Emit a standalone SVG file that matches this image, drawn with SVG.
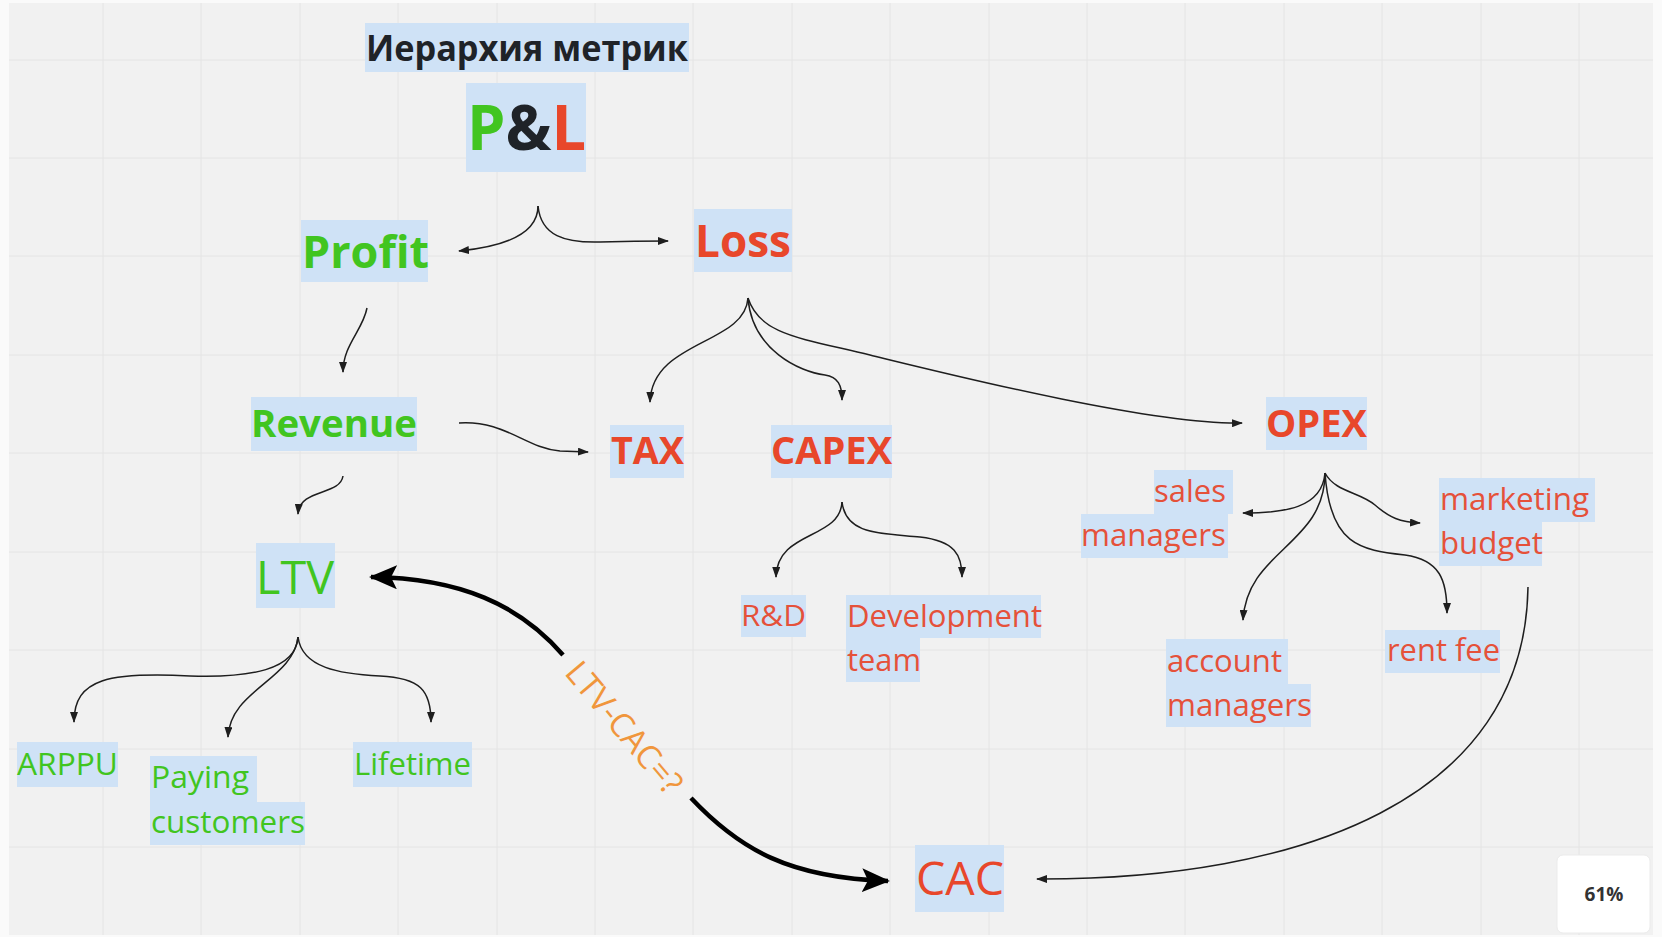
<svg xmlns="http://www.w3.org/2000/svg" width="1662" height="937" viewBox="0 0 1662 937">
<defs>
<style>
.box{fill:#cfe2f6}
.t{font-family:"Open Sans","Noto Sans","Liberation Sans",sans-serif}
.b{font-weight:700}
.g{fill:#41c520}
.r{fill:#e8472b}
.rl{fill:#e5513a}
.grid{stroke:#e4e4e4;stroke-width:1}
.c{fill:none;stroke:#1e1e1e;stroke-width:1.5;marker-end:url(#a)}
.k{fill:none;stroke:#000;stroke-width:4.5}
</style>
<marker id="a" markerUnits="userSpaceOnUse" markerWidth="11" markerHeight="8" refX="10" refY="4" orient="auto">
<path d="M0,0 L11,4 L0,8 z" fill="#1e1e1e"/>
</marker>
<marker id="A" markerUnits="userSpaceOnUse" markerWidth="28" markerHeight="24" refX="26" refY="12" orient="auto">
<path d="M0,0 L28,12 L0,24 L6,12 z" fill="#000"/>
</marker>
</defs>
<rect width="1662" height="937" fill="#fafafa"/>
<rect x="9" y="3" width="1644" height="932" fill="#f1f1f1"/>
<g id="grid" class="grid">
<path d="M103,3V935M201,3V935M300,3V935M398,3V935M497,3V935M595,3V935M693,3V935M792,3V935M890,3V935M989,3V935M1087,3V935M1185,3V935M1284,3V935M1382,3V935M1481,3V935M1579,3V935"/>
<path d="M9,60H1653M9,158H1653M9,256H1653M9,355H1653M9,453H1653M9,552H1653M9,650H1653M9,749H1653M9,847H1653"/>
</g>

<g id="connectors">
<path class="c" d="M538,206 C538,232 510,246 459,251"/>
<path class="c" d="M538,206 C541,236 565,243 600,242 S650,241 668,241"/>
<path class="c" d="M367,308 C363,330 343,345 343,372"/>
<path class="c" d="M459,423 C505,420 525,448 560,451 L588,452"/>
<path class="c" d="M343,476 C340,496 300,488 298,514"/>
<path class="c" d="M748,298 C745,345 652,340 650,402"/>
<path class="c" d="M748,298 C752,350 800,372 825,375 C838,377 842,385 842,400"/>
<path class="c" d="M748,298 C760,335 800,338 870,355 S1150,425 1242,423"/>
<path class="c" d="M842,502 C840,540 777,530 776,577"/>
<path class="c" d="M842,502 C846,535 880,533 920,537 C955,541 962,555 962,577"/>
<path class="c" d="M1325,473 C1322,508 1285,513 1243,513"/>
<path class="c" d="M1325,473 C1335,492 1360,492 1375,505 C1390,518 1400,522 1420,523"/>
<path class="c" d="M1325,473 C1325,545 1247,550 1243,620"/>
<path class="c" d="M1325,473 C1330,545 1360,550 1405,555 C1440,560 1447,580 1447,613"/>
<path class="c" d="M1528,587 C1525,800 1300,880 1037,879"/>
<path class="c" d="M298,637 C296,670 250,678 190,676 C110,672 74,678 74,722"/>
<path class="c" d="M298,637 C293,680 230,690 228,737"/>
<path class="c" d="M298,637 C302,668 340,674 380,676 C420,678 431,690 431,722"/>
<path class="k" d="M563,655 C520,605 460,578 371,577" marker-end="url(#A)"/>
<path class="k" d="M691,798 C740,850 790,878 888,881" marker-end="url(#A)"/>
<text class="t" x="625" y="727" font-size="33" fill="#f0963c" text-anchor="middle" dominant-baseline="central" transform="rotate(50 625 727)">LTV-CAC=?</text>
</g>

<g id="title">
<rect class="box" x="365" y="23" width="324" height="49"/>
<text class="t b" x="366" y="61" font-size="35" fill="#1f2328" textLength="322" lengthAdjust="spacingAndGlyphs">Иерархия метрик</text>
</g>
<g id="pl">
<rect class="box" x="466" y="83" width="120" height="89"/>
<text class="t b" x="467" y="150" font-size="62" textLength="119" lengthAdjust="spacingAndGlyphs"><tspan class="g">P</tspan><tspan fill="#1f2328">&amp;</tspan><tspan class="r">L</tspan></text>
</g>
<g id="profit">
<rect class="box" x="301" y="220" width="127" height="62"/>
<text class="t b g" x="302" y="268" font-size="45" textLength="127" lengthAdjust="spacingAndGlyphs">Profit</text>
</g>
<g id="loss">
<rect class="box" x="694" y="209" width="98" height="63"/>
<text class="t b r" x="695" y="257" font-size="45" textLength="96" lengthAdjust="spacingAndGlyphs">Loss</text>
</g>
<g id="revenue">
<rect class="box" x="251" y="397" width="166" height="54"/>
<text class="t b g" x="251" y="437" font-size="38" textLength="166" lengthAdjust="spacingAndGlyphs">Revenue</text>
</g>
<g id="tax">
<rect class="box" x="610" y="425" width="74" height="53"/>
<text class="t b r" x="611" y="464" font-size="38" textLength="73" lengthAdjust="spacingAndGlyphs">TAX</text>
</g>
<g id="capex">
<rect class="box" x="771" y="425" width="121" height="53"/>
<text class="t b r" x="771" y="464" font-size="38" textLength="121" lengthAdjust="spacingAndGlyphs">CAPEX</text>
</g>
<g id="opex">
<rect class="box" x="1266" y="397" width="101" height="53"/>
<text class="t b r" x="1266" y="437" font-size="38" textLength="101" lengthAdjust="spacingAndGlyphs">OPEX</text>
</g>
<g id="ltv">
<rect class="box" x="256" y="543" width="79" height="65"/>
<text class="t g" x="256" y="594" font-size="46" textLength="78" lengthAdjust="spacingAndGlyphs">LTV</text>
</g>
<g id="arppu">
<rect class="box" x="17" y="742" width="101" height="45"/>
<text class="t g" x="17" y="775" font-size="31" textLength="101" lengthAdjust="spacingAndGlyphs">ARPPU</text>
</g>
<g id="paying">
<rect class="box" x="150" y="756" width="107" height="46"/>
<rect class="box" x="150" y="802" width="155" height="43"/>
<text class="t g" x="151" y="788" font-size="31" textLength="98" lengthAdjust="spacingAndGlyphs">Paying</text>
<text class="t g" x="151" y="833" font-size="31" textLength="154" lengthAdjust="spacingAndGlyphs">customers</text>
</g>
<g id="lifetime">
<rect class="box" x="353" y="742" width="119" height="45"/>
<text class="t g" x="354" y="775" font-size="31" textLength="117" lengthAdjust="spacingAndGlyphs">Lifetime</text>
</g>
<g id="rnd">
<rect class="box" x="741" y="595" width="65" height="42"/>
<text class="t rl" x="741" y="626" font-size="30" textLength="65" lengthAdjust="spacingAndGlyphs">R&amp;D</text>
</g>
<g id="devteam">
<rect class="box" x="846" y="595" width="195" height="43"/>
<rect class="box" x="846" y="638" width="74" height="44"/>
<text class="t rl" x="847" y="627" font-size="31" textLength="195" lengthAdjust="spacingAndGlyphs">Development</text>
<text class="t rl" x="847" y="671" font-size="31" textLength="74" lengthAdjust="spacingAndGlyphs">team</text>
</g>
<g id="sales">
<rect class="box" x="1154" y="470" width="79" height="44"/>
<rect class="box" x="1081" y="514" width="147" height="44"/>
<text class="t rl" x="1226" y="502" font-size="31" text-anchor="end" textLength="72" lengthAdjust="spacingAndGlyphs">sales</text>
<text class="t rl" x="1226" y="546" font-size="31" text-anchor="end" textLength="145" lengthAdjust="spacingAndGlyphs">managers</text>
</g>
<g id="marketing">
<rect class="box" x="1439" y="478" width="156" height="44"/>
<rect class="box" x="1439" y="522" width="103" height="44"/>
<text class="t rl" x="1440" y="510" font-size="31" textLength="149" lengthAdjust="spacingAndGlyphs">marketing</text>
<text class="t rl" x="1440" y="554" font-size="31" textLength="103" lengthAdjust="spacingAndGlyphs">budget</text>
</g>
<g id="account">
<rect class="box" x="1166" y="639" width="122" height="45"/>
<rect class="box" x="1166" y="684" width="145" height="43"/>
<text class="t rl" x="1167" y="672" font-size="31" textLength="115" lengthAdjust="spacingAndGlyphs">account</text>
<text class="t rl" x="1167" y="716" font-size="31" textLength="145" lengthAdjust="spacingAndGlyphs">managers</text>
</g>
<g id="rent">
<rect class="box" x="1385" y="630" width="115" height="43"/>
<text class="t rl" x="1387" y="661" font-size="31" textLength="113" lengthAdjust="spacingAndGlyphs">rent fee</text>
</g>
<g id="cac">
<rect class="box" x="915" y="845" width="89" height="67"/>
<text class="t r" x="916" y="895" font-size="46" textLength="88" lengthAdjust="spacingAndGlyphs">CAC</text>
</g>
<g id="zoom">
<rect x="1557" y="855" width="93" height="78" rx="6" fill="#ffffff" stroke="#ebebeb"/>
<text class="t b" x="1604" y="901" font-size="19" fill="#333" text-anchor="middle">61%</text>
</g>
</svg>
